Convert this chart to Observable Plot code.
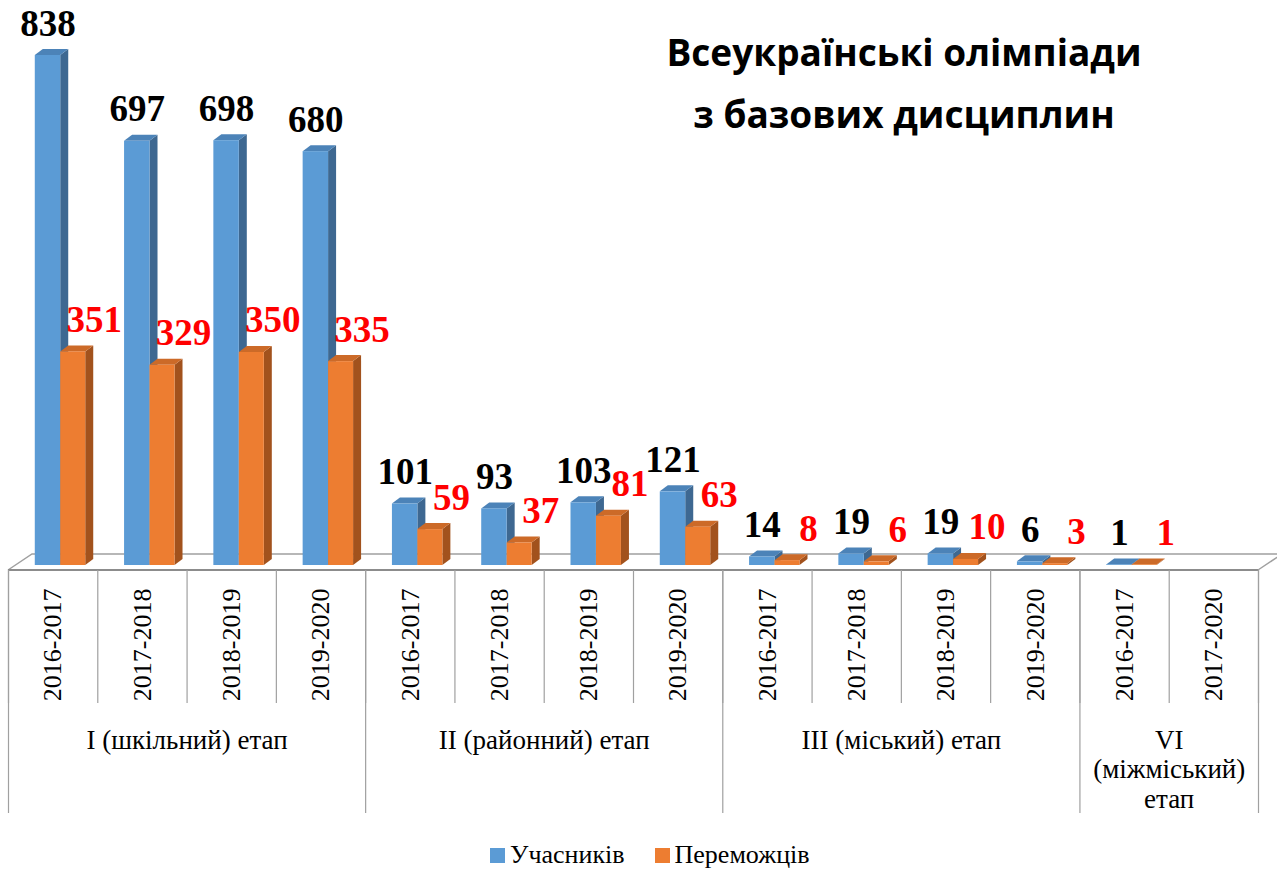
<!DOCTYPE html>
<html>
<head>
<meta charset="utf-8">
<script src="https://cdn.jsdelivr.net/npm/d3@7"></script>
<script src="https://cdn.jsdelivr.net/npm/@observablehq/plot@0.6"></script>
<style>
  html, body { margin: 0; padding: 0; background: #ffffff; }
  #wrap { position: relative; width: 1277px; height: 870px; overflow: hidden; }
  #chart { position: absolute; left: 0; top: 0; }
  #title { position: absolute; left: 604px; top: 21px; width: 600px; text-align: center;
           font-family: "Open Sans", "Noto Sans", sans-serif; font-weight: 700; font-size: 37px;
           line-height: 62px; color: #000; }
  #legend { position: absolute; left: 490px; top: 840px; display: flex; align-items: center;
            font-family: "Liberation Serif", "Times New Roman", serif; font-size: 26px; color: #000; }
  #legend .sw { width: 15px; height: 15px; display: inline-block; margin-right: 5px; }
  #legend .item { display: flex; align-items: center; margin-right: 30px; }
</style>
</head>
<body>
<div id="wrap">
  <div id="chart"></div>
  <div id="title">Всеукраїнські олімпіади<br>з базових дисциплин</div>
  <div id="legend"></div>
</div>
<script>
// ---- data ----
const years = ["2016-2017","2017-2018","2018-2019","2019-2020",
               "2016-2017","2017-2018","2018-2019","2019-2020",
               "2016-2017","2017-2018","2018-2019","2019-2020",
               "2016-2017","2017-2020"];
const stageNames = ["I (шкільний) етап", "II (районний) етап", "III (міський) етап", "VI\n(міжміський)\nетап"];
const stageSizes = [4, 4, 4, 2];
const participants = [838, 697, 698, 680, 101, 93, 103, 121, 14, 19, 19, 6, 1, null];
const winners      = [351, 329, 350, 335,  59, 37,  81,  63,  8,  6, 10, 3, 1, null];
const seriesNames = ["Учасників", "Переможців"];
const seriesColors = ["#5b9bd5", "#ed7d31"];

// ---- derived tables ----
const rows = years.map((y, i) => ({i, year: y, participants: participants[i], winners: winners[i]}));
const stageEdges = [0];
stageSizes.forEach(s => stageEdges.push(stageEdges[stageEdges.length - 1] + s));
const stageCenters = stageSizes.map((s, k) => stageEdges[k] + s / 2);

const W = 1277, H = 830;
const DX = 8, DY = 6;          // bar depth (px)
const FX = 24, FY = 16;        // floor depth (px)
const grid = "#a0a0a0";
const serif = "Liberation Serif, Times New Roman, serif";

const series = [
  {key: "participants", x1: 0.30, x2: 0.585, front: "#5b9bd5", top: "#4c83b8", side: "#3e6891", label: "#000000", ldx: 0},
  {key: "winners",      x1: 0.585, x2: 0.865, front: "#ed7d31", top: "#cc6a28", side: "#a2521d", label: "#ff0000", ldx: 21}
];

function floorMark(index, scales, values, dims) {
  const y0 = dims.height - dims.marginBottom;
  const xa = scales.x(0), xb = scales.x(years.length);
  const g = d3.create("svg:g");
  g.append("path")
    .attr("d", `M${xa},${y0}L${xa + FX},${y0 - FY}L${xb + FX},${y0 - FY}L${xb},${y0}`)
    .attr("fill", "none").attr("stroke", grid).attr("stroke-width", 1.5);
  g.append("line").attr("x1", xa).attr("x2", xb).attr("y1", y0).attr("y2", y0)
    .attr("stroke", "#8c8c8c").attr("stroke-width", 2);
  return g.node();
}

function facesMark(s) {
  return (index, scales) => {
    const g = d3.create("svg:g");
    for (const r of rows) {
      const v = r[s.key];
      if (v == null) continue;
      const x1 = scales.x(r.i + s.x1), x2 = scales.x(r.i + s.x2);
      const yt = scales.y(v), yb = scales.y(0);
      g.append("path")
        .attr("d", `M${x2},${yt}L${x2 + DX},${yt - DY}L${x2 + DX},${yb - DY}L${x2},${yb}Z`)
        .attr("fill", s.side);
      g.append("path")
        .attr("d", `M${x1},${yt}L${x2},${yt}L${x2 + DX},${yt - DY}L${x1 + DX},${yt - DY}Z`)
        .attr("fill", s.top);
    }
    return g.node();
  };
}

const marks = [floorMark];
for (const s of series) {
  const data = rows.filter(r => r[s.key] != null);
  marks.push(facesMark(s));
  marks.push(Plot.rect(data, {
    x1: d => d.i + s.x1, x2: d => d.i + s.x2, y1: 0, y2: s.key, fill: s.front
  }));
}
for (const s of series) {
  const data = rows.filter(r => r[s.key] != null);
  marks.push(Plot.text(data, {
    x: d => d.i + (s.x1 + s.x2) / 2, y: s.key, text: d => String(d[s.key]),
    dx: s.ldx, dy: -20, lineAnchor: "bottom", textAnchor: "middle",
    fontFamily: serif, fontWeight: "bold", fontSize: 37, fill: s.label
  }));
}
// category table
marks.push(Plot.axisX({ticks: d3.range(0, years.length + 1), tickSize: 133, tickFormat: () => "",
  stroke: grid, strokeWidth: 1.2, label: null}));
marks.push(Plot.axisX({ticks: stageEdges, tickSize: 243, tickFormat: () => "",
  stroke: grid, strokeWidth: 1.2, label: null}));
marks.push(Plot.axisX({ticks: rows.map(r => r.i + 0.5), tickFormat: d => years[Math.floor(d)],
  tickSize: 0, tickPadding: 18, tickRotate: -90, fontFamily: serif, fontSize: 26, fill: "#000", label: null}));
marks.push(Plot.axisX({ticks: stageCenters, tickFormat: d => stageNames[stageCenters.indexOf(d)],
  tickSize: 0, tickPadding: 157, lineHeight: 1.1, fontFamily: serif, fontSize: 27, fill: "#000", label: null}));

const chart = Plot.plot({
  width: W, height: H,
  marginLeft: 8, marginRight: 19, marginTop: 55, marginBottom: 260,
  x: {type: "linear", domain: [0, years.length], axis: null, label: null},
  y: {domain: [0, d3.max(participants)], insetBottom: 5, axis: null, label: null},
  style: {fontFamily: serif, background: "#ffffff", overflow: "visible"},
  marks
});
document.getElementById("chart").appendChild(chart);

// legend
const leg = document.getElementById("legend");
seriesNames.forEach((n, k) => {
  const item = document.createElement("div");
  item.className = "item";
  item.innerHTML = `<span class="sw" style="background:${seriesColors[k]}"></span><span>${n}</span>`;
  leg.appendChild(item);
});
</script>
</body>
</html>
